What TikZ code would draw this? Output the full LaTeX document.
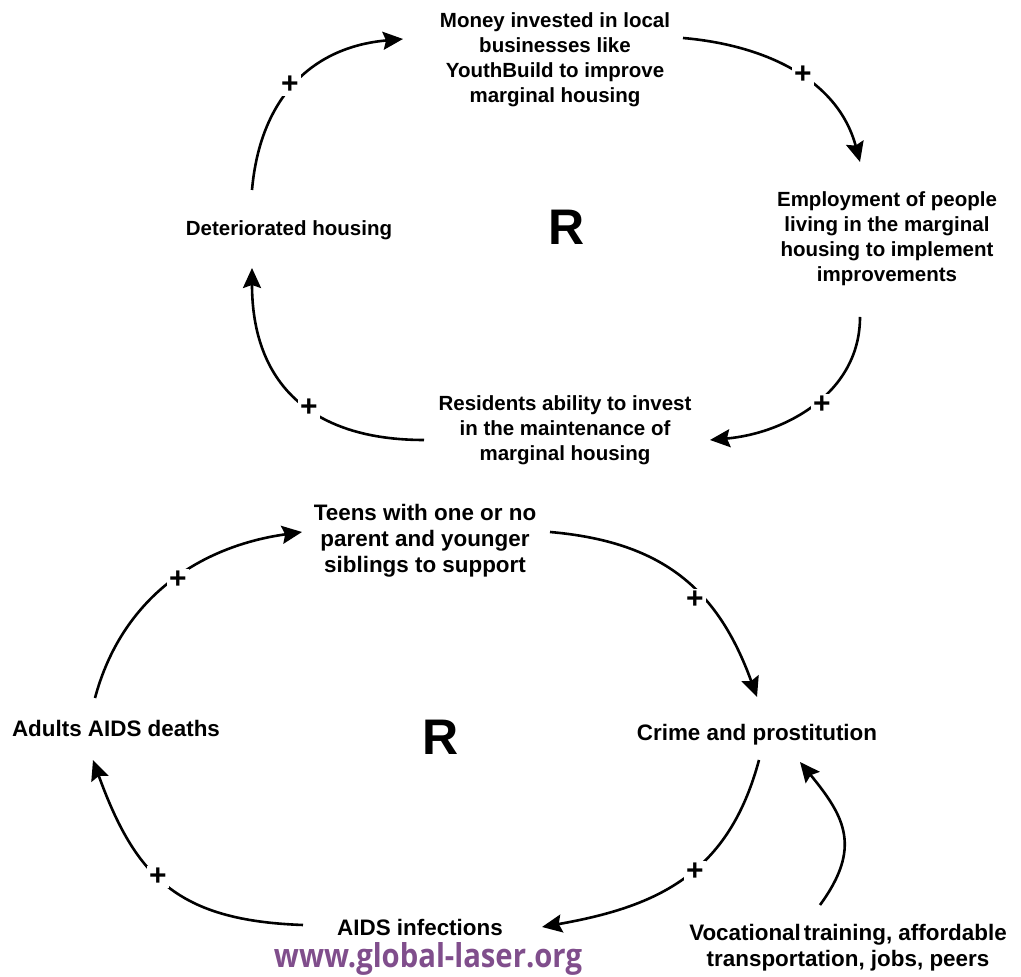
\documentclass[tikz,border=0pt]{standalone}
\usepackage{fontspec}
\setmainfont{Liberation Sans}
\newfontfamily\wmfont{Open Sans}
\usetikzlibrary{arrows.meta}
\definecolor{wmpurple}{RGB}{128,78,140}

\tikzset{
  var/.style={font=\bfseries\fontsize{20.5}{25}\selectfont, align=center, inner sep=0pt},
  varb/.style={font=\bfseries\fontsize{22.4}{26}\selectfont, align=center, inner sep=0pt},
  link/.style={line width=2.6pt, -{Stealth[length=20pt,width=18pt,inset=3pt]}},
  pol/.style={font=\bfseries\fontsize{30}{30}\selectfont, fill=white, inner sep=2.5pt},
  loopR/.style={font=\bfseries\fontsize{50}{50}\selectfont, inner sep=0pt}
}

\begin{document}
\begin{tikzpicture}[x=1pt,y=1pt]
\useasboundingbox (0,0) rectangle (1021,977);

% ---------- housing loop ----------
\node[var] (money)  at (555,917.5) {Money invested in local\\businesses like\\YouthBuild to improve\\marginal housing};
\node[var] (employ) at (887,738)   {Employment of people\\living in the marginal\\housing to implement\\improvements};
\node[var] (resid)  at (565,547)   {Residents ability to invest\\in the maintenance of\\marginal housing};
\node[var] (deter)  at (289,747)   {Deteriorated housing};
\node[loopR] (r1)   at (567,750)   {R};

\draw[link] ([shift={(-37,40)}]deter.center) to[out=85,in=185,looseness=1.1] ([shift={(-152,20.5)}]money.center);
\draw[link] ([shift={(128,21.5)}]money.center) to[out=-5,in=105] ([shift={(-27,77)}]employ.center);
\draw[link] ([shift={(-27,-78)}]employ.center) to[out=-90,in=5] ([shift={(145,-10)}]resid.center);
\draw[link] ([shift={(-141,-10)}]resid.center) to[out=180,in=-90,looseness=1.2] ([shift={(-37,-38)}]deter.center);

\node[pol] (p1) at (290,892) {+};
\node[pol] (p2) at (803,902) {+};
\node[pol] (p3) at (822,572) {+};
\node[pol] (p4) at (309,569) {+};

% ---------- AIDS loop ----------
\node[varb] (teens)  at (425,436) {Teens with one or no\\parent and younger\\siblings to support};
\node[varb] (crime)  at (757,242) {Crime and prostitution};
\node[varb] (aids)   at (420,50)  {AIDS infections};
\node[varb] (adults) at (116,249) {Adults AIDS deaths};
\node[varb] (voc)    at (848,29.5) {Vocational\kern3pt training, affordable\\transportation, jobs, peers};
\node[loopR] (r2)    at (441,240) {R};

\draw[link] ([shift={(-21,30)}]adults.center) to[out=75,in=188] ([shift={(-123,9)}]teens.center);
\draw[link] ([shift={(125,9)}]teens.center) to[out=-5,in=110,looseness=1.1] ([shift={(0,38)}]crime.center);
\draw[link] ([shift={(2,-25)}]crime.center) to[out=-105,in=10,looseness=1.1] ([shift={(122,0)}]aids.center);
\draw[link] ([shift={(-117,2)}]aids.center) to[out=178,in=-70,looseness=1.2] ([shift={(-23,-32)}]adults.center);
\draw[link] ([shift={(-28,42.5)}]voc.center) .. controls +(42,57.5) and +(45,-55) .. ([shift={(43,-27)}]crime.center);

\node[pol] (p5) at (178,397) {+};
\node[pol] (p6) at (695,377) {+};
\node[pol] (p7) at (695,105) {+};
\node[pol] (p8) at (158,100) {+};

% ---------- web address ----------
\node[anchor=base, inner sep=0pt, text=wmpurple] (web) at (428,9)
  {\resizebox{308pt}{25pt}{\wmfont\bfseries www.global-laser.org}};
\end{tikzpicture}
\end{document}
